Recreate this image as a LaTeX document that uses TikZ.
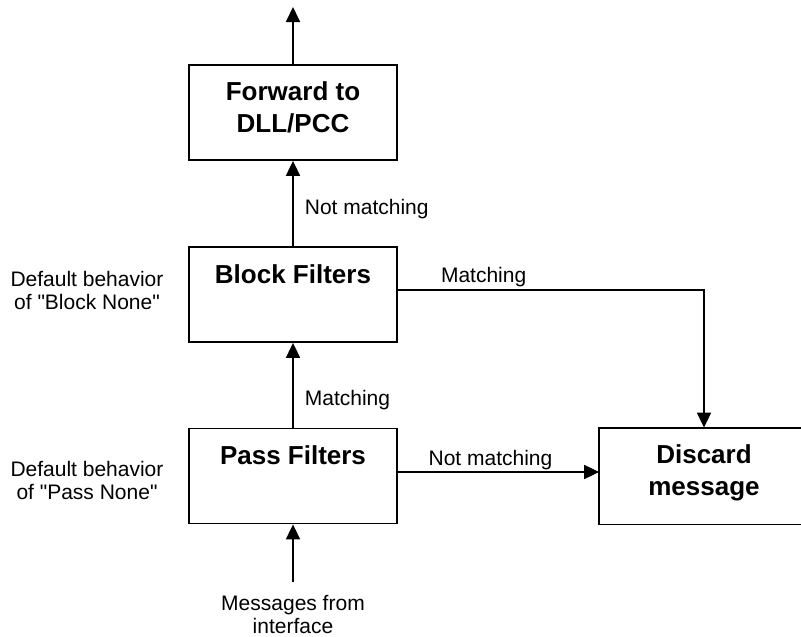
\documentclass[tikz,border=0pt]{standalone}
\usepackage{fontspec}
\setmainfont{Liberation Sans}[Ligatures=TeXOff]
\usetikzlibrary{arrows.meta}

\tikzset{
  box/.style={draw, line width=1.8pt, minimum width=208pt, inner sep=0pt,
    font=\fontsize{26}{32}\selectfont\bfseries},
  filterbox/.style={box, text height=36pt, text depth=59pt},
  actbox/.style={box, align=center, text height=67pt, text depth=28pt},
  note/.style={inner sep=0pt, align=center, font=\fontsize{21}{23}\selectfont},
  lbl/.style={inner sep=0pt, font=\fontsize{21}{23}\selectfont},
  flow/.style={line width=1.8pt, -{Triangle[length=15pt,width=14pt]}},
}

\begin{document}
\begin{tikzpicture}[x=1pt,y=-1pt]
  \useasboundingbox (0,0) rectangle (801,637);
  % boxes
  \node[actbox] (fwd) at (293,112.5) {Forward to\\DLL/PCC};
  \node[filterbox] (block) at (293,294.5) {Block Filters};
  \node[filterbox] (pass) at (293,476) {Pass Filters};
  \node[actbox, draw=none] (discard) at (704,476) {Discard\\message};
  % discard box runs off the right edge
  \draw[line width=1.8pt] ([xshift=-5pt]discard.north east) -- (discard.north west)
    -- (discard.south west) -- ([xshift=-5pt]discard.south east);
  % side notes
  \node[note] (blocknote) at (87,290) {Default behavior\\of "Block None"};
  \node[note] (passnote) at (87,480) {Default behavior\\of "Pass None"};
  \node[note] (src) at (293,614) {Messages from\\interface};
  \coordinate (out) at (293,7);
  % connectors
  \draw[flow] (fwd.north) -- (out);
  \draw[flow] (block.north) -- node[lbl, pos=0.44, right=11pt] {Not matching} (fwd.south);
  \draw[flow] (pass.north) -- node[lbl, pos=0.33, right=11pt] {Matching} (block.south);
  \draw[flow] ([yshift=13pt]src.north) -- (pass.south);
  \draw[flow] ([yshift=4.5pt]block.east) -| node[lbl, pos=0.14, above=2pt] {Matching} (discard.north);
  \draw[flow] ([yshift=4pt]pass.east) -- node[lbl, pos=0.46, above=1pt] {Not matching} ([yshift=4pt]discard.west);
\end{tikzpicture}
\end{document}
